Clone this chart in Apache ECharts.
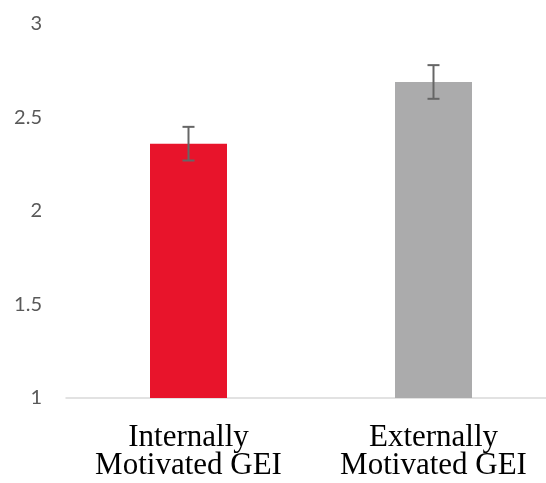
<!DOCTYPE html>
<html>
<head>
<meta charset="utf-8">
<script src="https://cdn.jsdelivr.net/npm/echarts@6/dist/echarts.min.js"></script>
<style>
html,body{margin:0;padding:0;background:#fff;}
#chart{width:546px;height:483px;}
</style>
</head>
<body>
<div id="chart"></div>
<script>
var categories = ['Internally\nMotivated GEI', 'Externally\nMotivated GEI'];
var means = [2.36, 2.69];
var errors = [0.09, 0.09];
var barColors = ['#E8142B', '#ABABAC'];

var chart = echarts.init(document.getElementById('chart'));
var errData = means.map(function (m, i) { return [i, m - errors[i], m + errors[i]]; });

chart.setOption({
  animation: false,
  grid: { left: 66, top: 24, bottom: 85, width: 490, containLabel: false, outerBoundsMode: 'none' },
  xAxis: {
    type: 'category',
    data: categories,
    axisTick: { show: false },
    axisLine: { lineStyle: { color: '#D9D9D9', width: 1.5 } },
    axisLabel: {
      interval: 0,
      margin: 26,
      fontFamily: 'Liberation Serif',
      fontSize: 31,
      lineHeight: 28,
      color: '#000'
    }
  },
  yAxis: {
    type: 'value',
    min: 1, max: 3, interval: 0.5,
    axisLine: { show: false },
    axisTick: { show: false },
    splitLine: { show: false },
    axisLabel: {
      margin: 24,
      fontFamily: 'Lato',
      fontSize: 20,
      color: '#595959'
    }
  },
  series: [
    {
      type: 'bar',
      barWidth: 77,
      data: means.map(function (v, i) { return { value: v, itemStyle: { color: barColors[i] } }; })
    },
    {
      type: 'custom',
      data: errData,
      renderItem: function (params, api) {
        var x = api.coord([api.value(0), api.value(1)])[0];
        var lo = api.coord([api.value(0), api.value(1)])[1];
        var hi = api.coord([api.value(0), api.value(2)])[1];
        var hw = 6;
        var st = { stroke: '#666666', lineWidth: 2 };
        return {
          type: 'group',
          children: [
            { type: 'line', shape: { x1: x, y1: lo, x2: x, y2: hi }, style: st },
            { type: 'line', shape: { x1: x - hw, y1: lo, x2: x + hw, y2: lo }, style: st },
            { type: 'line', shape: { x1: x - hw, y1: hi, x2: x + hw, y2: hi }, style: st }
          ]
        };
      },
      z: 10
    }
  ]
});
</script>
</body>
</html>
